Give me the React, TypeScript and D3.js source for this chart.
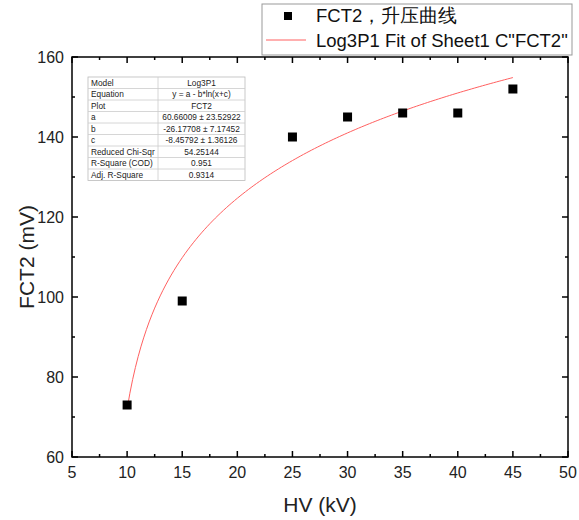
import React from 'react';
import * as d3 from 'd3';

const hv = [10, 15, 25, 30, 35, 40, 45];
const fct2 = [73, 99, 140, 145, 146, 146, 152];
const xTicks = [5, 10, 15, 20, 25, 30, 35, 40, 45, 50];
const yTicks = [60, 80, 100, 120, 140, 160];
// fit parameters shown in the table: y = a - b*ln(x+c)
const fitA = 60.66009;
const fitB = -26.17708;
const fitC = -8.45792;
const tableRows = [
  ['Model', 'Log3P1'],
  ['Equation', 'y = a - b*ln(x+c)'],
  ['Plot', 'FCT2'],
  ['a', '60.66009 ± 23.52922'],
  ['b', '-26.17708 ± 7.17452'],
  ['c', '-8.45792 ± 1.36126'],
  ['Reduced Chi-Sqr', '54.25144'],
  ['R-Square (COD)', '0.951'],
  ['Adj. R-Square', '0.9314'],
];

const W = 579, H = 520;
const m = { left: 72, right: 11, top: 57, bottom: 63 };
const font = 'Liberation Sans, Arial, sans-serif';

export default function App() {
  const x = d3.scaleLinear().domain([5, 50]).range([m.left, W - m.right]);
  const y = d3.scaleLinear().domain([60, 160]).range([H - m.bottom, m.top]);
  const x0 = x.range()[0], x1 = x.range()[1];
  const y0 = y.range()[0], y1 = y.range()[1];

  const xMinor = d3.range(7.5, 50, 5);
  const yMinor = d3.range(70, 160, 20);

  const fitX = d3.range(10, 45.01, 0.25);
  const line = d3.line<number>()
    .x(d => x(d))
    .y(d => y(fitA - fitB * Math.log(d + fitC)));

  const tx = 88, ty = 77, rowH = 11.5, col1 = 70, col2 = 87;

  return (
    <svg width={W} height={H} style={{ position: 'absolute', left: 0, top: 0, background: '#fff' }} fontFamily={font}>
      <rect x={0} y={0} width={W} height={H} fill="#fff" />
      {/* legend */}
      <rect x={262} y={4} width={310} height={51} fill="#fff" stroke="#999" strokeWidth={1} />
      <rect x={284} y={12} width={8} height={8} fill="#000" />
      <text x={316} y={22} fontSize={18.5} fill="#111">FCT2，升压曲线</text>
      <line x1={266} x2={306} y1={40} y2={40} stroke="#ff6060" strokeWidth={1} />
      <text x={316} y={47} fontSize={18.5} fill="#111">Log3P1 Fit of Sheet1 C"FCT2"</text>

      {/* frame */}
      <rect x={x0} y={y1} width={x1 - x0} height={y0 - y1} fill="none" stroke="#000" strokeWidth={1.5} />
      {xTicks.map(t => (
        <g key={'xt' + t}>
          <line x1={x(t)} x2={x(t)} y1={y0} y2={y0 - 6} stroke="#000" strokeWidth={1.5} />
          <line x1={x(t)} x2={x(t)} y1={y1} y2={y1 + 6} stroke="#000" strokeWidth={1.5} />
          <text x={x(t)} y={y0 + 21} fontSize={16} textAnchor="middle" fill="#222">{t}</text>
        </g>
      ))}
      {xMinor.map(t => (
        <g key={'xm' + t}>
          <line x1={x(t)} x2={x(t)} y1={y0} y2={y0 - 3} stroke="#000" strokeWidth={1.5} />
          <line x1={x(t)} x2={x(t)} y1={y1} y2={y1 + 3} stroke="#000" strokeWidth={1.5} />
        </g>
      ))}
      {yTicks.map(t => (
        <g key={'yt' + t}>
          <line x1={x0} x2={x0 + 6} y1={y(t)} y2={y(t)} stroke="#000" strokeWidth={1.5} />
          <line x1={x1} x2={x1 - 6} y1={y(t)} y2={y(t)} stroke="#000" strokeWidth={1.5} />
          <text x={x0 - 8} y={y(t) + 6} fontSize={16} textAnchor="end" fill="#222">{t}</text>
        </g>
      ))}
      {yMinor.map(t => (
        <g key={'ym' + t}>
          <line x1={x0} x2={x0 + 3} y1={y(t)} y2={y(t)} stroke="#000" strokeWidth={1.5} />
          <line x1={x1} x2={x1 - 3} y1={y(t)} y2={y(t)} stroke="#000" strokeWidth={1.5} />
        </g>
      ))}
      <text x={(x0 + x1) / 2} y={512} fontSize={21} textAnchor="middle" fill="#222">HV (kV)</text>
      <text transform={`translate(34,${(y0 + y1) / 2}) rotate(-90)`} fontSize={21} textAnchor="middle" fill="#222">FCT2 (mV)</text>

      {/* stats table */}
      <g fontSize={8.3} fill="#222">
        <rect x={tx} y={ty} width={col1 + col2} height={rowH * tableRows.length} fill="#fff" stroke="#bbb" strokeWidth={0.8} />
        {tableRows.map((r, i) => (
          <g key={'tr' + i}>
            {i > 0 && <line x1={tx} x2={tx + col1 + col2} y1={ty + i * rowH} y2={ty + i * rowH} stroke="#ccc" strokeWidth={0.8} />}
            <text x={tx + 3} y={ty + i * rowH + 8.6}>{r[0]}</text>
            <text x={tx + col1 + col2 / 2} y={ty + i * rowH + 8.6} textAnchor="middle">{r[1]}</text>
          </g>
        ))}
        <line x1={tx + col1} x2={tx + col1} y1={ty} y2={ty + rowH * tableRows.length} stroke="#ccc" strokeWidth={0.8} />
      </g>

      {/* fit curve */}
      <path d={line(fitX) || ''} fill="none" stroke="#ff6060" strokeWidth={1} />
      {/* data points */}
      {hv.map((v, i) => (
        <rect key={'p' + i} x={x(v) - 4.5} y={y(fct2[i]) - 4.5} width={9} height={9} fill="#000" />
      ))}
    </svg>
  );
}
